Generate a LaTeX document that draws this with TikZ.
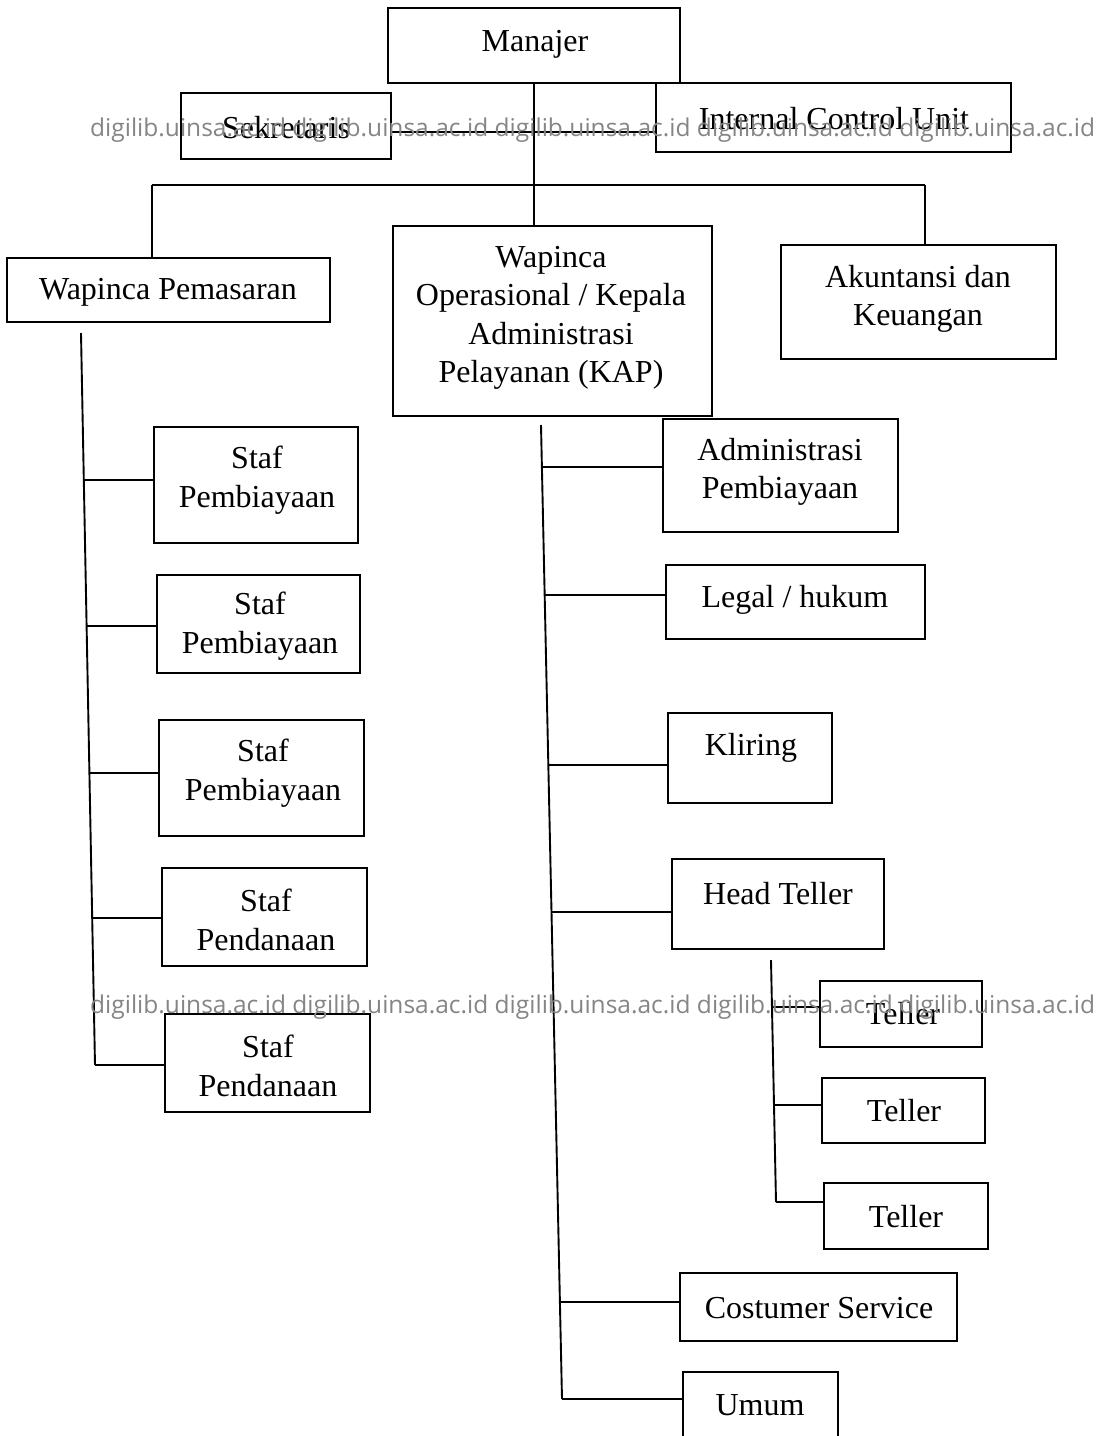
\documentclass[tikz,border=0pt]{standalone}
\usepackage{fontspec}
\setmainfont{Liberation Serif}
\newfontfamily\wmfont{Open Sans}
\tikzset{
  box/.style={draw, line width=1.9pt, rectangle, inner sep=0pt, outer sep=0pt},
  lbl/.style={font=\fontsize{32}{38.5}\selectfont, align=center, inner sep=0pt},
  conn/.style={line width=1.9pt},
  wm/.style={font=\wmfont\fontsize{24.5}{28}\selectfont, text=black!48, inner sep=0pt, anchor=west}
}
\newcommand\orgbox[5]{%
  \node[box, minimum width={(#4-#2)*1pt}, minimum height={(#5-#3)*1pt}] (#1) at ({(#2+#4)/2},{(#3+#5)/2}) {};}
\begin{document}
\begin{tikzpicture}[x=1pt,y=-1pt]
\fill[white] (0,0) rectangle (1096,1436);
\useasboundingbox (0,0) rectangle (1096,1436);
\clip (0,0) rectangle (1096,1436);
% boxes
\orgbox{man}{388}{8}{680}{83}
\orgbox{sek}{181}{93}{391}{159}
\orgbox{icu}{656}{83}{1011}{152}
\orgbox{wp}{7}{258}{330}{322}
\orgbox{wo}{393}{226}{712}{416}
\orgbox{ak}{781}{245}{1056}{359}
\orgbox{sp1}{154}{427}{358}{543}
\orgbox{sp2}{157}{575}{360}{673}
\orgbox{sp3}{159}{720}{364}{836}
\orgbox{sd1}{162}{868}{367}{966}
\orgbox{sd2}{165}{1014}{370}{1112}
\orgbox{ap}{663}{419}{898}{532}
\orgbox{lh}{666}{565}{925}{639}
\orgbox{kl}{668}{713}{832}{803}
\orgbox{ht}{672}{859}{884}{949}
\orgbox{t1}{820}{981}{982}{1047}
\orgbox{t2}{822}{1078}{985}{1143}
\orgbox{t3}{824}{1183}{988}{1249}
\orgbox{cs}{680}{1273}{957}{1341}
\orgbox{um}{683}{1372}{838}{1450}
% texts
\node[lbl] (man-t) at (535,44) {Manajer};
\node[lbl] (sek-t) at (286,128) {Sekretaris};
\node[lbl] (icu-t) at (834,119) {Internal Control Unit};
\node[lbl] (wp-t) at (168,292) {Wapinca Pemasaran};
\node[lbl] (wo-t) at (551,318) {Wapinca\\Operasional / Kepala\\Administrasi\\Pelayanan (KAP)};
\node[lbl] (ak-t) at (918,299) {Akuntansi dan\\Keuangan};
\node[lbl] (sp1-t) at (257,480) {Staf\\Pembiayaan};
\node[lbl] (sp2-t) at (260,626) {Staf\\Pembiayaan};
\node[lbl] (sp3-t) at (263,773) {Staf\\Pembiayaan};
\node[lbl] (sd1-t) at (266,920) {Staf\\Pendanaan};
\node[lbl] (sd2-t) at (268,1066) {Staf\\Pendanaan};
\node[lbl] (ap-t) at (780,472) {Administrasi\\Pembiayaan};
\node[lbl] (lh-t) at (795,600) {Legal / hukum};
\node[lbl] (kl-t) at (751,748) {Kliring};
\node[lbl] (ht-t) at (778,894) {Head Teller};
\node[lbl] (t1-t) at (903,1014) {Teller};
\node[lbl] (t2-t) at (904,1111) {Teller};
\node[lbl] (t3-t) at (906,1217) {Teller};
\node[lbl] (cs-t) at (819,1308) {Costumer Service};
\node[lbl] (um-t) at (760,1405) {Umum};
% top connectors
\draw[conn] (man.south) -- (man.south |- wo.north);
\draw[conn] (sek.east |- 0,132) -- (icu.west |- 0,132);
\coordinate (barL) at (152,185);
\coordinate (barR) at (925,185);
\draw[conn] (barL) -- (barR);
\draw[conn] (barL) -- (barL |- wp.north);
\draw[conn] (barR) -- (barR |- ak.north);
% left trunk
\coordinate (ltop) at (81,333);
\coordinate (lbot) at (95,1065);
\draw[conn] (ltop) -- (lbot);
\coordinate (l1) at (84,480);
\coordinate (l2) at (86.6,626);
\coordinate (l3) at (89.4,773);
\coordinate (l4) at (92.2,918);
\draw[conn] (l1) -- (l1 -| sp1.west);
\draw[conn] (l2) -- (l2 -| sp2.west);
\draw[conn] (l3) -- (l3 -| sp3.west);
\draw[conn] (l4) -- (l4 -| sd1.west);
\draw[conn] (lbot) -- (lbot -| sd2.west);
% middle trunk
\coordinate (mtop) at (541,425);
\coordinate (mbot) at (562,1399);
\draw[conn] (mtop) -- (mbot);
\coordinate (m1) at (542,467);
\coordinate (m2) at (544.7,595);
\coordinate (m3) at (548.3,765);
\coordinate (m4) at (551.5,912);
\coordinate (m5) at (560,1302);
\draw[conn] (m1) -- (m1 -| ap.west);
\draw[conn] (m2) -- (m2 -| lh.west);
\draw[conn] (m3) -- (m3 -| kl.west);
\draw[conn] (m4) -- (m4 -| ht.west);
\draw[conn] (m5) -- (m5 -| cs.west);
\draw[conn] (mbot) -- (mbot -| um.west);
% teller trunk
\coordinate (ttop) at (771,960);
\coordinate (tbot) at (776,1202);
\draw[conn] (ttop) -- (tbot);
\coordinate (tc1) at (772,1007);
\coordinate (tc2) at (774,1105);
\draw[conn] (tc1) -- (tc1 -| t1.west);
\draw[conn] (tc2) -- (tc2 -| t2.west);
\draw[conn] (tbot) -- (tbot -| t3.west);
% watermark
\node[wm] (wm1) at (90,130) {digilib.uinsa.ac.id digilib.uinsa.ac.id digilib.uinsa.ac.id digilib.uinsa.ac.id digilib.uinsa.ac.id};
\node[wm] (wm2) at (90,1007) {digilib.uinsa.ac.id digilib.uinsa.ac.id digilib.uinsa.ac.id digilib.uinsa.ac.id digilib.uinsa.ac.id};
\end{tikzpicture}
\end{document}
